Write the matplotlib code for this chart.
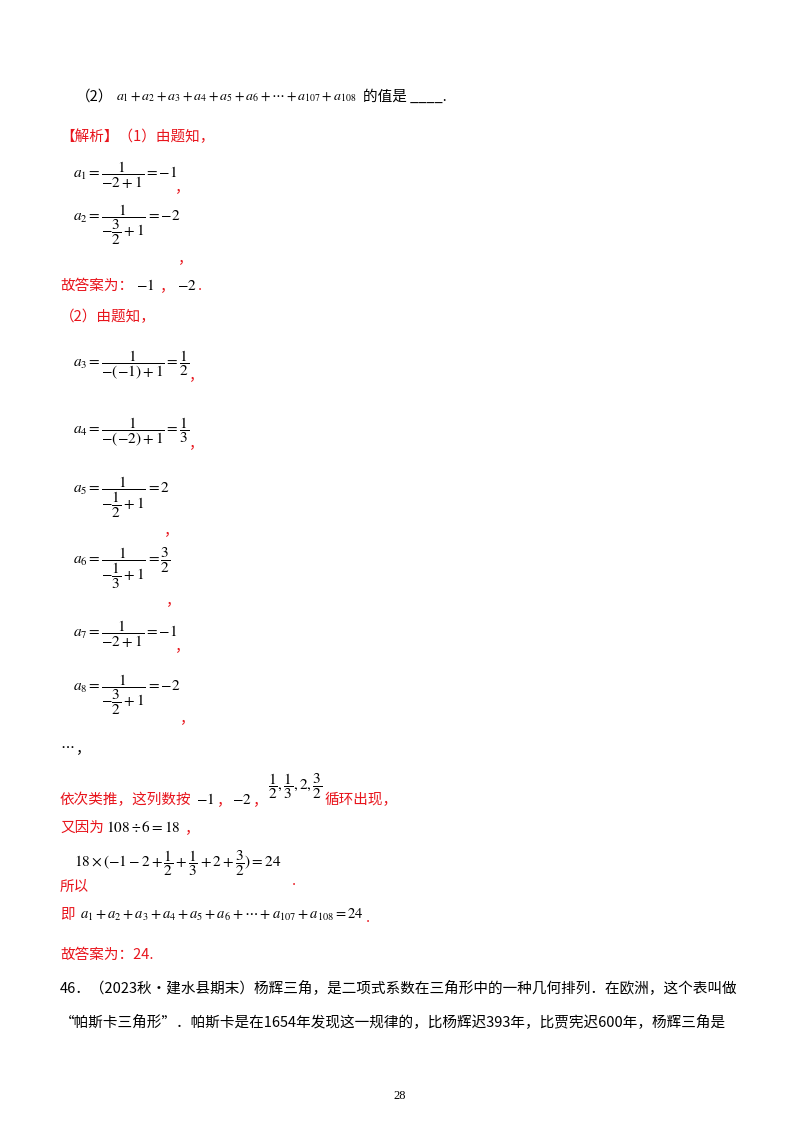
import matplotlib
matplotlib.use("Agg")
import matplotlib.pyplot as plt

plt.rcParams['font.family'] = ['Noto Sans CJK SC', 'DejaVu Sans']
plt.rcParams['mathtext.fontset'] = 'stix'

RED = '#e8141c'
W, H = 800, 1132
fig = plt.figure(figsize=(8, 11.32), dpi=100)
R = fig.canvas.get_renderer()

def T(x, y, s, c='black', fs=10.5, **kw):
    kw.setdefault('ha', 'left')
    return fig.text(x / W, 1 - y / H, s, color=c, fontsize=fs, va='center', **kw)

def right(t):
    return t.get_window_extent(R).x1

series = r'a_1+a_2+a_3+a_4+a_5+a_6+\cdots+a_{107}+a_{108}'

t = T(76, 97, '（2）')
t = T(right(t) + 3, 97, '$' + series + '$', fs=10)
T(right(t) + 6, 97, '的值是 ____.')
T(60, 137, '【解析】（1）由题知，', c=RED)

eqs1 = [
    (175, r'$a_1=\dfrac{1}{-2+1}=-1$', 187),
    (225, r'$a_2=\dfrac{1}{-\dfrac{3}{2}+1}=-2$', 258),
]
for y, s, cy in eqs1:
    t = T(73, y, s, fs=11)
    T(right(t) - 2, cy, '，', c=RED)

T(60, 286, '故答案为：', c=RED)
T(136, 286, r'$-1$', fs=11)
T(160, 286, '，', c=RED)
T(177, 286, r'$-2$', fs=11)
T(198, 286, '.', c=RED)
T(60, 317, '（2）由题知，', c=RED)

eqs2 = [
    (365, r'$a_3=\dfrac{1}{-(-1)+1}=\dfrac{1}{2}$', 375, 0),
    (432, r'$a_4=\dfrac{1}{-(-2)+1}=\dfrac{1}{3}$', 443, 0),
    (497, r'$a_5=\dfrac{1}{-\dfrac{1}{2}+1}=2$', 530, -6),
    (568, r'$a_6=\dfrac{1}{-\dfrac{1}{3}+1}=\dfrac{3}{2}$', 600, -4),
    (634, r'$a_7=\dfrac{1}{-2+1}=-1$', 646, -2),
    (695, r'$a_8=\dfrac{1}{-\dfrac{3}{2}+1}=-2$', 718, 0),
]
for y, s, cy, dx in eqs2:
    t = T(73, y, s, fs=11)
    T(right(t) + dx, cy, '，', c=RED)

T(60, 745, r'$\cdots$', fs=11)
T(76, 748, '，')

T(60, 800, '依次类推，这列数按', c=RED)
T(196, 800, r'$-1$', fs=11)
T(217, 800, '，', c=RED)
T(232, 800, r'$-2$', fs=11)
T(253, 800, '，', c=RED)
t = T(268, 786, r'$\dfrac{1}{2},\dfrac{1}{3},2,\dfrac{3}{2}$', fs=11)
T(right(t) + 2, 800, '循环出现，', c=RED)

T(60, 828, '又因为', c=RED)
T(106, 828, r'$108\div 6=18$', fs=11)
T(185, 828, '，', c=RED)

t = T(74, 863, r'$18\times(-1-2+\dfrac{1}{2}+\dfrac{1}{3}+2+\dfrac{3}{2})=24$', fs=11)
T(60, 887, '所以', c=RED)
T(right(t) + 10, 881, '.', c=RED)

T(60, 915, '即', c=RED)
t = T(80, 915, '$' + series + '=24$', fs=10.5)
T(right(t) + 2, 918, '.', c=RED)

T(60, 955, '故答案为：24.', c=RED)

T(60, 988, '46．（2023秋•建水县期末）杨辉三角，是二项式系数在三角形中的一种几何排列．在欧洲，这个表叫做')
T(60, 1022, '“帕斯卡三角形”．帕斯卡是在1654年发现这一规律的，比杨辉迟393年，比贾宪迟600年，杨辉三角是')

T(400, 1096, '28', fs=9, family='Liberation Serif', ha='center')

fig.savefig('out.png', dpi=100)
